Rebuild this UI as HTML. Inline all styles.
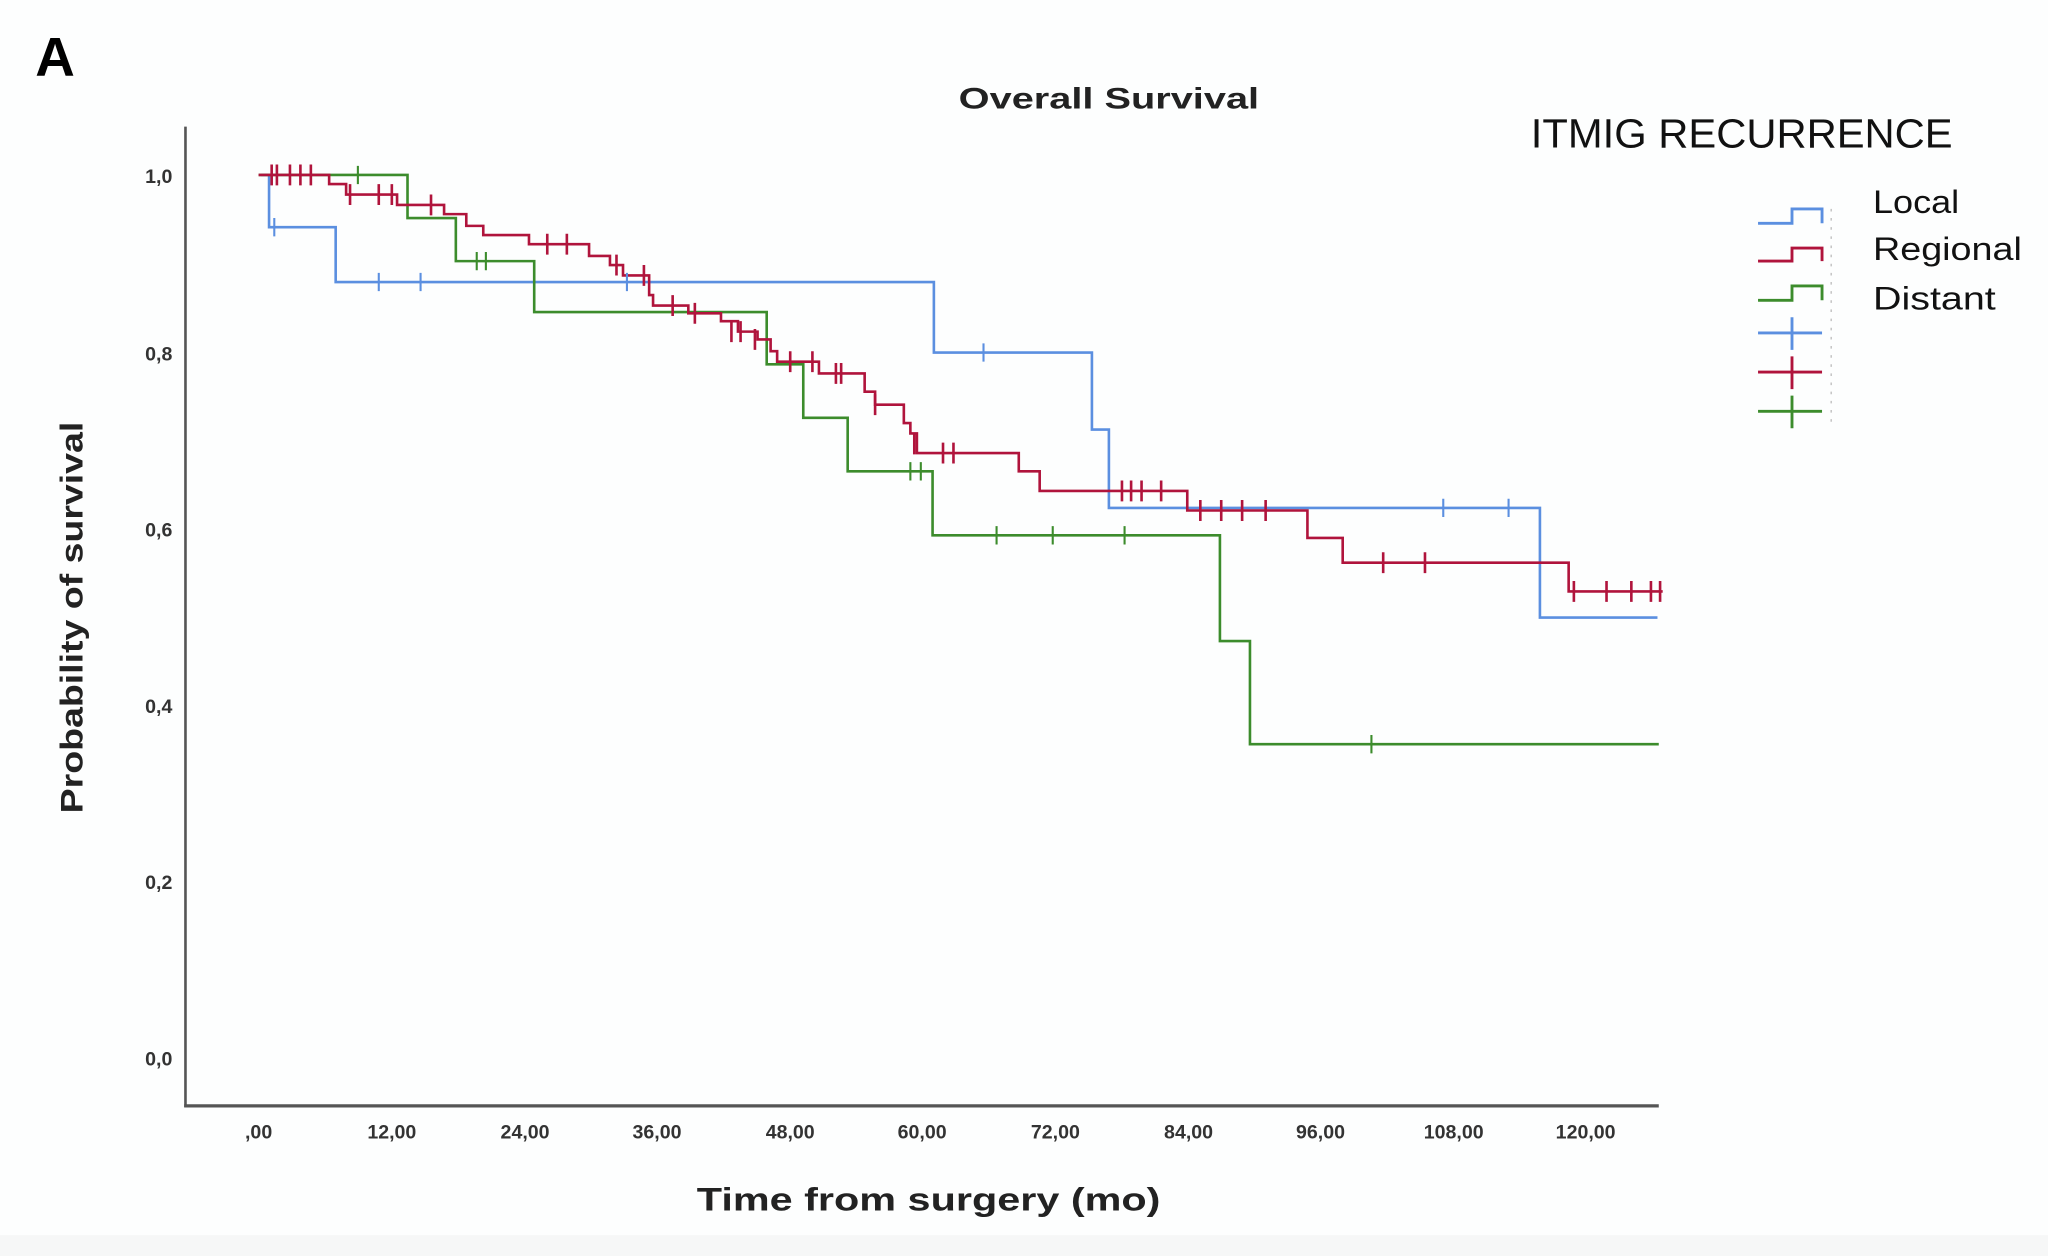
<!DOCTYPE html>
<html><head><meta charset="utf-8"><style>
html,body{margin:0;padding:0;background:#fdfefe;}
svg{display:block;}
</style></head><body>
<svg width="2048" height="1256" viewBox="0 0 1568 962" preserveAspectRatio="none" xmlns="http://www.w3.org/2000/svg">
<rect x="0" y="0" width="1568" height="962" fill="#fdfefe"/>
<rect x="0" y="946" width="1568" height="16" fill="#f6f7f7"/>
<text x="27" y="58" font-family="Liberation Sans, sans-serif" font-weight="bold" font-size="42" fill="#000">A</text>
<text x="849" y="83" text-anchor="middle" font-family="Liberation Sans, sans-serif" font-weight="bold" font-size="23" fill="#222" textLength="230" lengthAdjust="spacingAndGlyphs">Overall Survival</text>
<text x="1172" y="113" font-family="Liberation Sans, sans-serif" font-size="31" fill="#111" textLength="323" lengthAdjust="spacingAndGlyphs">ITMIG RECURRENCE</text>
<!-- axes -->
<line x1="142" y1="97" x2="142" y2="848" stroke="#555" stroke-width="2"/>
<line x1="141" y1="847" x2="1270" y2="847" stroke="#555" stroke-width="2.5"/>
<g font-family="Liberation Sans, sans-serif" font-weight="bold" font-size="15" fill="#333">
<text x="132" y="140" text-anchor="end">1,0</text>
<text x="132" y="276" text-anchor="end">0,8</text>
<text x="132" y="411" text-anchor="end">0,6</text>
<text x="132" y="546" text-anchor="end">0,4</text>
<text x="132" y="681" text-anchor="end">0,2</text>
<text x="132" y="816" text-anchor="end">0,0</text>
</g>
<g font-family="Liberation Sans, sans-serif" font-weight="bold" font-size="15" fill="#333" text-anchor="middle">
<text x="198" y="872">,00</text>
<text x="300" y="872">12,00</text>
<text x="402" y="872">24,00</text>
<text x="503" y="872">36,00</text>
<text x="605" y="872">48,00</text>
<text x="706" y="872">60,00</text>
<text x="808" y="872">72,00</text>
<text x="910" y="872">84,00</text>
<text x="1011" y="872">96,00</text>
<text x="1113" y="872">108,00</text>
<text x="1214" y="872">120,00</text>
</g>
<text x="711" y="927" text-anchor="middle" font-family="Liberation Sans, sans-serif" font-weight="bold" font-size="25" fill="#222" textLength="355" lengthAdjust="spacingAndGlyphs">Time from surgery (mo)</text>
<text transform="translate(63,473) rotate(-90)" text-anchor="middle" font-family="Liberation Sans, sans-serif" font-weight="bold" font-size="24" fill="#222" textLength="300" lengthAdjust="spacingAndGlyphs">Probability of survival</text>
<!-- curves -->
<g fill="none" stroke-width="2">
<path stroke="#5b8fe0" d="M200,134 H206 V174 H257 V216 H715 V270 H836 V329 H849 V389 H1179 V473 H1269"/>
<path stroke="#3c8c2c" d="M198,134 H312 V167 H349 V200 H409 V239 H587 V279 H615 V320 H649 V361 H714 V410 H934 V491 H957 V570 H1270"/>
<path stroke="#b0143c" d="M198,134 H252 V141 H265 V149 H304 V157 H340 V164 H357 V173 H370 V180 H405 V187 H451 V196 H467 V203 H477 V211 H497 V226 H500 V234 H527 V240 H552 V246 H565 V254 H580 V260 H590 V269 H595 V277 H627 V286 H662 V300 H670 V310 H692 V324 H697 V332 H702 V347 H780 V361 H796 V376 H909 V391 H1001 V412 H1028 V431 H1201 V453 H1273"/>
</g>
<g stroke="#5b8fe0" stroke-width="1.6">
<path d="M210,167v14M290,209v14M322,209v14M480,209v14M753,263v14M1105,382v14M1155,382v14"/>
</g>
<g stroke="#3c8c2c" stroke-width="1.6">
<path d="M274,127v14M365,193v14M372,193v14M697,354v14M705,354v14M763,403v14M806,403v14M861,403v14M1050,563v14"/>
</g>
<g stroke="#b0143c" stroke-width="2">
<path d="M208,126v16M212,126v16M222,126v16M230,126v16M238,126v16M268,141v16M290,141v16M300,141v16M330,149v16M419,179v16M434,179v16M472,195v16M493,203v16M515,226v16M532,232v16M560,246v16M567,246v16M578,252v16M605,269v16M622,269v16M640,278v16M644,278v16M670,302v16M700,332v16M722,339v16M730,339v16M859,368v16M866,368v16M874,368v16M889,368v16M919,383v16M935,383v16M951,383v16M969,383v16M1059,423v16M1091,423v16M1205,445v16M1230,445v16M1249,445v16M1264,445v16M1271,445v16"/>
</g>
<!-- legend -->
<g fill="none" stroke-width="2.2">
<path stroke="#5b8fe0" d="M1346,171 H1372 V160 H1395 V171"/>
<path stroke="#b0143c" d="M1346,200 H1372 V190 H1395 V200"/>
<path stroke="#3c8c2c" d="M1346,230 H1372 V219 H1395 V230"/>
<path stroke="#5b8fe0" d="M1346,255 H1395 M1372,243 V268"/>
<path stroke="#b0143c" d="M1346,285 H1395 M1372,273 V298"/>
<path stroke="#3c8c2c" d="M1346,315 H1395 M1372,303 V328"/>
</g>
<line x1="1402" y1="160" x2="1402" y2="325" stroke="#bbb" stroke-width="1" stroke-dasharray="2,5"/>
<g font-family="Liberation Sans, sans-serif" font-size="25" fill="#111">
<text x="1434" y="163" textLength="66" lengthAdjust="spacingAndGlyphs">Local</text>
<text x="1434" y="199" textLength="114" lengthAdjust="spacingAndGlyphs">Regional</text>
<text x="1434" y="237" textLength="94" lengthAdjust="spacingAndGlyphs">Distant</text>
</g>
</svg>
</body></html>
